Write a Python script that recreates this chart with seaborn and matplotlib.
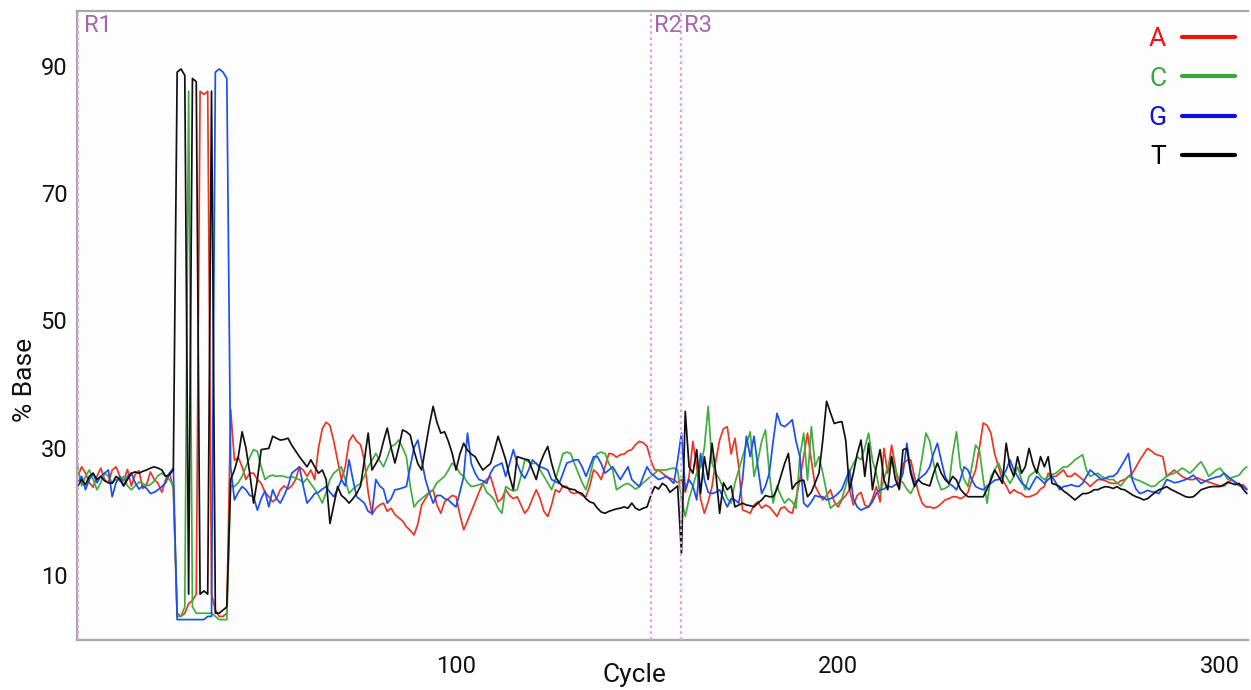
import numpy as np
import pandas as pd
import matplotlib
matplotlib.use("Agg")
import matplotlib.pyplot as plt
from matplotlib.lines import Line2D
import matplotlib.transforms as mtransforms
import seaborn as sns

# % of each base per sequencing cycle (cycle 1..307)
base_a = [
    25.5, 27.0, 26.0, 24.5, 23.8, 25.5, 26.8, 25.0, 24.5, 26.5,
    27.0, 25.5, 24.8, 26.6, 24.0, 25.8, 26.4, 23.6, 24.2, 26.2,
    25.0, 24.4, 23.0, 25.0, 26.0, 23.5, 4.0, 3.5, 4.0, 5.5,
    6.0, 7.0, 86.0, 85.5, 86.0, 7.0, 4.5, 3.5, 3.5, 4.0,
    36.0, 28.0, 28.5, 27.0, 25.0, 26.0, 26.0, 25.0, 24.4, 23.0,
    22.3, 21.5, 22.0, 23.4, 24.0, 23.5, 24.0, 25.0, 27.0, 26.5,
    25.5, 26.5, 25.0, 30.0, 33.0, 34.0, 33.5, 31.0, 28.0, 25.0,
    27.0, 31.0, 32.0, 31.0, 30.5, 28.0, 23.0, 19.5, 20.5, 21.0,
    21.3, 20.0, 20.5, 19.5, 19.0, 18.5, 17.6, 17.0, 16.3, 18.0,
    21.0, 22.0, 23.0, 23.4, 21.0, 19.7, 21.5, 22.0, 22.5, 22.3,
    19.5, 17.1, 18.5, 20.0, 21.5, 23.0, 24.4, 25.0, 25.5, 23.5,
    21.5, 22.0, 23.4, 22.5, 22.0, 22.3, 21.0, 19.7, 20.5, 22.0,
    23.4, 22.0, 20.0, 19.2, 21.0, 23.4, 23.0, 24.0, 23.9, 23.0,
    22.8, 23.0, 22.5, 22.3, 24.0, 26.5, 26.0, 25.0, 27.0, 29.1,
    29.0, 28.5, 28.9, 29.0, 29.5, 29.7, 30.5, 31.0, 30.8, 30.2,
    28.0, 26.5, 26.5, 26.0, 25.5, 25.2, 25.0, 24.5, 25.0, 23.0,
    25.5, 31.0, 27.0, 22.0, 19.7, 21.5, 23.9, 28.0, 31.2, 33.0,
    33.3, 29.0, 31.5, 27.0, 20.2, 20.0, 19.7, 21.0, 21.5, 20.5,
    21.0, 20.7, 20.0, 19.2, 20.5, 20.7, 20.0, 19.7, 22.0, 25.0,
    28.6, 32.3, 28.0, 24.0, 22.8, 21.8, 22.5, 23.4, 21.5, 20.7,
    21.8, 22.5, 23.4, 21.0, 22.5, 23.0, 21.0, 20.7, 22.0, 23.9,
    21.5, 29.9, 26.0, 30.4, 27.0, 23.4, 27.5, 28.0, 28.1, 25.5,
    23.0, 21.3, 20.7, 20.7, 20.5, 20.7, 21.2, 21.8, 22.0, 22.3,
    22.3, 22.0, 22.3, 23.0, 24.9, 26.5, 30.0, 33.9, 33.5, 32.3,
    29.0, 27.0, 25.0, 24.0, 22.8, 23.4, 23.0, 22.8, 22.3, 22.3,
    22.5, 22.8, 23.5, 23.9, 26.0, 25.5, 25.5, 26.0, 26.5, 25.5,
    25.5, 26.0, 25.5, 25.0, 24.5, 23.9, 24.5, 25.0, 25.0, 24.8,
    24.5, 24.4, 24.4, 24.8, 25.0, 25.5, 26.0, 27.0, 28.1, 29.0,
    29.9, 29.5, 29.0, 28.8, 28.6, 25.5, 26.0, 26.5, 26.0, 25.5,
    25.2, 25.0, 25.0, 25.3, 25.0, 24.8, 24.6, 24.4, 24.2, 24.0,
    24.0, 24.5, 25.0, 24.5, 24.0, 24.2, 23.5,
]

base_c = [
    27.0, 24.0, 25.5, 26.5, 25.0, 23.4, 24.5, 26.0, 25.5, 24.5,
    25.0, 24.8, 25.5, 24.0, 23.4, 24.0, 24.6, 24.4, 24.0, 24.2,
    24.8, 25.6, 26.0, 25.5, 25.0, 24.0, 3.5, 3.5, 5.0, 86.0,
    5.0, 4.0, 4.0, 4.0, 4.0, 4.0, 3.5, 3.0, 3.0, 3.0,
    24.0, 23.9, 24.5, 25.5, 27.0, 28.5, 29.7, 29.4, 27.0, 25.0,
    25.5, 25.7, 25.5, 25.6, 25.5, 25.3, 25.5, 25.2, 25.0, 24.5,
    25.2, 24.3, 23.5, 22.5, 21.3, 23.0, 25.0, 26.0, 26.5, 27.0,
    25.0, 22.8, 23.5, 24.0, 24.4, 25.5, 27.0, 28.0, 29.1, 28.0,
    27.0, 28.5, 30.2, 30.5, 31.2, 30.0, 28.6, 24.0, 20.7, 21.5,
    22.0, 22.5, 23.0, 23.4, 24.5, 25.0, 25.5, 26.5, 27.6, 27.0,
    26.0, 25.5, 24.5, 23.9, 24.0, 24.2, 24.4, 23.0, 22.5, 21.8,
    20.5, 19.7, 23.9, 23.5, 23.2, 23.4, 25.5, 28.1, 27.8, 27.5,
    27.6, 26.5, 25.5, 24.5, 23.4, 25.0, 27.0, 29.1, 29.3, 29.1,
    27.5, 26.0, 24.5, 23.4, 25.5, 28.0, 29.1, 29.3, 29.1, 27.5,
    26.5, 23.4, 23.8, 24.2, 24.4, 24.0, 23.5, 23.9, 24.5, 25.0,
    25.5, 26.0, 26.5, 26.5, 26.5, 26.7, 26.8, 26.5, 22.0, 19.2,
    22.0, 24.0, 26.0, 27.0, 30.0, 36.5, 27.6, 26.0, 25.0, 23.5,
    22.0, 21.3, 24.5, 26.5, 28.6, 30.5, 32.5, 25.5, 28.0, 31.0,
    32.8, 26.0, 21.3, 24.0, 22.5, 21.3, 22.0, 21.5, 20.5, 28.6,
    32.3, 24.9, 33.3, 27.0, 28.6, 26.0, 23.0, 20.5, 21.0, 21.3,
    22.0, 24.0, 26.2, 27.5, 28.6, 28.1, 30.0, 32.3, 28.0, 26.0,
    22.8, 25.0, 27.0, 28.6, 26.5, 25.0, 24.5, 23.5, 22.8, 24.0,
    25.0, 28.5, 32.3, 31.0, 27.6, 25.0, 23.4, 23.6, 24.0, 29.0,
    32.5, 27.0, 25.0, 23.9, 27.0, 30.4, 29.6, 25.0, 21.3, 25.5,
    26.5, 27.6, 26.0, 25.5, 24.4, 25.5, 27.0, 25.0, 23.4, 25.5,
    26.0, 26.5, 25.5, 25.0, 25.5, 25.8, 26.0, 26.5, 27.0, 27.0,
    27.5, 28.1, 28.5, 28.9, 26.5, 25.5, 25.8, 26.0, 25.5, 25.2,
    25.0, 25.0, 24.5, 24.0, 24.8, 25.5, 25.3, 25.0, 24.8, 24.5,
    24.2, 23.9, 24.0, 24.6, 25.0, 25.5, 25.8, 26.0, 26.3, 26.8,
    26.5, 26.0, 26.5, 27.2, 27.8, 26.8, 25.5, 26.0, 26.5, 26.8,
    26.0, 25.0, 25.3, 25.5, 25.7, 26.5, 27.0,
]

base_g = [
    24.5, 25.5, 23.4, 25.0, 26.0, 24.5, 25.5, 26.0, 26.5, 22.3,
    24.5, 25.5, 24.0, 25.5, 26.0, 24.5, 23.5, 24.0, 23.6, 22.8,
    23.0, 23.4, 23.9, 24.5, 26.0, 26.8, 3.0, 3.0, 3.0, 3.0,
    3.0, 3.0, 3.0, 3.0, 3.5, 3.5, 89.0, 89.5, 89.0, 88.0,
    27.0, 21.8, 23.0, 23.9, 23.4, 22.5, 22.3, 20.2, 22.0, 23.2,
    20.7, 23.4, 22.0, 21.3, 22.5, 23.9, 26.0, 26.5, 27.0, 24.0,
    21.3, 22.0, 22.8, 23.0, 23.5, 23.9, 23.0, 22.3, 23.5, 25.0,
    24.0, 28.1, 25.0, 22.3, 21.8, 21.3, 20.0, 19.7, 25.0, 24.0,
    23.5, 21.3, 22.0, 23.4, 23.5, 23.7, 23.9, 27.0, 30.0, 31.2,
    28.0, 25.0, 23.0, 21.3, 22.5, 22.5, 22.0, 21.8, 21.2, 20.7,
    23.0, 25.5, 32.3, 27.5, 26.0, 25.0, 24.8, 24.4, 26.0, 27.0,
    27.3, 27.6, 25.5, 27.5, 29.7, 27.5, 26.0, 25.2, 26.5, 28.1,
    27.5, 27.0, 26.8, 26.5, 25.0, 24.7, 24.4, 26.0, 27.6, 27.8,
    28.1, 28.1, 27.0, 25.5, 27.0, 28.6, 28.6, 27.5, 26.0, 26.5,
    27.0, 26.0, 25.0, 26.0, 27.0, 25.0, 24.4, 23.9, 25.5, 27.0,
    26.0, 25.5, 25.0, 25.2, 25.5, 25.0, 24.4, 28.0, 32.3, 23.4,
    25.0, 24.0, 21.8, 29.1, 25.0, 23.0, 22.8, 23.0, 23.4, 22.0,
    20.7, 22.0, 21.8, 21.3, 25.0, 31.8, 28.6, 31.8, 27.0, 22.8,
    24.0, 26.0, 31.0, 35.4, 33.6, 33.3, 33.8, 34.4, 31.0, 28.6,
    21.3, 20.7, 21.5, 22.5, 22.3, 22.3, 21.8, 22.0, 22.3, 22.8,
    23.5, 25.0, 26.5, 22.0, 20.7, 20.2, 20.5, 20.7, 21.5, 22.8,
    23.4, 23.5, 24.0, 23.8, 24.2, 24.4, 26.0, 30.7, 26.5, 24.4,
    25.0, 25.5, 26.0, 27.0, 29.1, 30.7, 28.0, 25.5, 24.4, 24.0,
    23.4, 25.0, 27.0, 26.5, 25.0, 23.9, 23.6, 23.4, 24.0, 24.4,
    24.9, 25.0, 25.5, 26.5, 28.1, 26.5, 25.5, 24.5, 24.0, 23.4,
    24.5, 25.5, 25.0, 24.4, 25.0, 25.5, 24.5, 23.4, 23.9, 24.0,
    24.2, 24.0, 23.9, 24.4, 25.5, 26.5, 26.0, 25.5, 25.0, 25.2,
    25.5, 25.5, 26.0, 27.0, 28.0, 29.1, 25.0, 23.5, 22.8, 23.0,
    23.3, 23.1, 23.0, 22.8, 23.8, 25.0, 24.8, 24.5, 24.6, 24.8,
    25.0, 25.3, 25.7, 25.0, 24.4, 24.7, 25.0, 25.2, 25.4, 25.5,
    26.0, 25.5, 25.0, 24.6, 24.2, 23.9, 23.4,
]

base_t = [
    24.0, 25.0, 24.2, 25.5, 26.0, 25.0, 25.5, 24.8, 24.5, 24.4,
    25.5, 25.0, 24.0, 25.0, 26.0, 26.2, 26.0, 26.3, 26.5, 26.8,
    27.0, 26.8, 26.5, 25.5, 25.8, 26.5, 89.0, 89.5, 88.5, 7.0,
    88.0, 87.5, 7.0, 7.5, 7.0, 86.0, 4.0, 4.0, 4.5, 5.0,
    25.0, 26.5, 28.6, 32.5, 30.0, 26.0, 21.3, 25.0, 29.7, 29.8,
    29.9, 31.8, 31.5, 31.2, 31.3, 31.5, 30.4, 29.5, 28.6, 27.8,
    27.0, 28.1, 27.0, 26.0, 26.5, 25.0, 18.1, 21.0, 23.9, 22.5,
    22.0, 21.3, 22.0, 22.8, 24.0, 28.0, 32.3, 26.5, 27.5, 28.6,
    31.0, 33.1, 30.0, 27.6, 30.0, 32.8, 32.5, 32.0, 29.5, 27.5,
    26.5, 30.0, 33.5, 36.5, 34.0, 32.3, 32.5, 31.0, 29.1, 26.5,
    29.0, 30.7, 29.6, 29.0, 28.6, 27.5, 26.5, 27.0, 27.5, 29.5,
    31.8, 30.0, 28.1, 25.5, 23.4, 28.6, 28.4, 28.2, 28.1, 26.5,
    25.0, 27.5, 29.0, 30.2, 27.6, 25.5, 24.5, 23.9, 23.7, 23.5,
    23.4, 23.0, 22.8, 22.0, 21.5, 21.3, 20.5, 19.9, 19.7, 20.0,
    20.2, 20.4, 20.5, 20.7, 20.5, 21.3, 20.5, 20.2, 20.5, 20.7,
    22.5, 23.9, 23.5, 24.4, 24.0, 23.0, 23.5, 24.0, 13.4, 35.7,
    27.0, 26.0, 29.7, 22.8, 28.6, 25.0, 30.7, 26.0, 19.7, 24.5,
    23.4, 24.0, 20.7, 21.0, 21.3, 21.0, 20.9, 20.7, 21.3, 21.8,
    22.5, 22.3, 22.3, 23.5, 25.5, 27.5, 29.1, 23.5, 24.4, 24.8,
    24.9, 22.3, 23.0, 24.5, 26.0, 31.2, 37.3, 35.5, 33.8, 34.0,
    34.1, 31.2, 23.4, 26.0, 29.0, 31.2, 25.5, 30.7, 23.4, 27.0,
    29.7, 25.0, 23.4, 28.6, 25.0, 23.5, 29.7, 29.9, 26.0, 23.9,
    25.0, 24.4, 24.2, 24.0, 26.0, 27.6, 26.0, 25.0, 24.4, 25.5,
    24.9, 23.5, 22.8, 22.3, 22.3, 22.3, 22.3, 22.3, 23.5, 24.9,
    26.5, 25.5, 24.4, 30.7, 27.0, 25.5, 28.6, 26.0, 27.0, 29.9,
    27.5, 26.0, 28.6, 27.0, 28.6, 24.4, 24.2, 23.9, 23.2, 22.8,
    22.3, 21.8, 22.3, 22.8, 22.8, 23.0, 23.4, 23.4, 23.7, 23.9,
    23.8, 23.6, 23.9, 23.5, 23.4, 23.0, 22.6, 22.3, 22.1, 21.8,
    22.0, 22.5, 23.0, 23.4, 23.6, 23.9, 23.5, 23.2, 22.9, 22.6,
    22.3, 22.2, 22.3, 22.8, 23.4, 23.6, 23.8, 23.9, 23.9, 23.9,
    24.2, 24.6, 24.4, 24.2, 24.4, 23.5, 22.8,
]

region_cycles = [1, 151, 159]
region_labels = ["R1", "R2", "R3"]

bases = ["A", "C", "G", "T"]
line_colors = {"A": "#ee3524", "C": "#3fae3f", "G": "#1a4ff0", "T": "#111111"}
label_colors = {"A": "#ee1111", "C": "#3aa83a", "G": "#1010dd", "T": "#000000"}

frames = []
for name, vals in zip(bases, [base_a, base_c, base_g, base_t]):
    frames.append(pd.DataFrame({
        "Cycle": np.arange(1, len(vals) + 1),
        "Percent": vals,
        "Base": name,
    }))
df = pd.concat(frames, ignore_index=True)

sns.set_style("white")
plt.rcParams["font.family"] = ["Roboto", "DejaVu Sans"]

fig = plt.figure(figsize=(12.51, 6.90), dpi=100, facecolor="white")
ax = fig.add_axes([0.0616, 0.0725, 0.936, 0.9115])
ax.set_facecolor("#fefdfe")

sns.lineplot(data=df, x="Cycle", y="Percent", hue="Base", palette=line_colors,
             estimator=None, sort=False, linewidth=1.25, legend=False, ax=ax)

ax.set_xlim(0.8, 307.3)
ax.set_ylim(-0.2, 98.6)

# region markers with labels just right of each line
trans = mtransforms.blended_transform_factory(ax.transData, ax.transAxes)
shifts = [6, 3, 3]
for cyc, lab, dx in zip(region_cycles, region_labels, shifts):
    ax.axvline(cyc, color="#e3a0e3", linestyle=(0, (1.2, 1.5)), linewidth=1.6, zorder=3)
    off = mtransforms.ScaledTranslation(dx / 100, 0, fig.dpi_scale_trans)
    ax.text(cyc, 0.977, lab, transform=trans + off, color="#a46aa8",
            fontsize=17, ha="left", va="center")

ax.set_yticks(np.arange(10, 91, 10))
ax.set_yticklabels([str(v) if v % 20 == 10 else "" for v in range(10, 91, 10)])
ax.set_xticks([100, 200, 300])
ax.tick_params(axis="both", direction="in", length=5, width=1, color="#aaaaaa",
               labelsize=17, labelcolor="#111111")
ax.tick_params(axis="y", pad=7)
ax.tick_params(axis="x", pad=11)

for side in ["left", "bottom", "top"]:
    ax.spines[side].set_color("#a8a8a8")
    ax.spines[side].set_linewidth(1.6)
ax.spines["right"].set_visible(False)

ax.set_xlabel("Cycle", fontsize=19, color="#111111")
ax.set_ylabel("% Base", fontsize=19, color="#111111")
ax.xaxis.set_label_coords(0.476, -0.036)
ax.yaxis.set_label_coords(-0.034, 0.413)

handles = [Line2D([0], [0], color=label_colors[b], linewidth=3) for b in bases]
leg = ax.legend(handles, bases, loc="upper right", bbox_to_anchor=(1.009, 1.012),
                frameon=False, markerfirst=False, fontsize=19, handlelength=2.0,
                handletextpad=0.6, labelspacing=0.58)
for txt, b in zip(leg.get_texts(), bases):
    txt.set_color(label_colors[b])

fig.savefig("out.png", dpi=100, facecolor=fig.get_facecolor())
